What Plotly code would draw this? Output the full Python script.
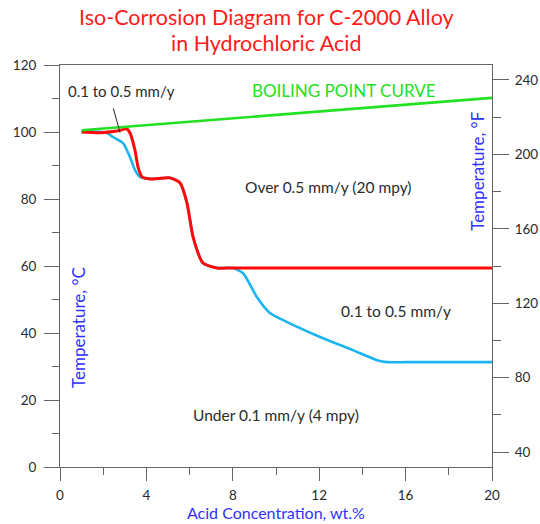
import plotly.graph_objects as go

# ---- data ----
boil_x = [1.0, 20.0]
boil_t = [100.5, 110.2]

red_x = [1.0, 1.85, 2.64, 3.1, 3.24, 3.47, 3.61, 3.8, 4.17, 5.1, 5.56, 5.88, 6.16, 6.62, 7.27, 8.0, 20.0]
red_t = [100.0, 99.8, 100.3, 100.9, 99.7, 94.6, 89.6, 86.6, 86.0, 86.3, 84.8, 78.8, 68.7, 60.9, 59.4, 59.4, 59.4]

blue_x = [1.0, 1.39, 2.18, 2.45, 2.92, 3.24, 3.47, 3.7, 4.17, 5.1, 5.56, 5.88, 6.16, 6.62, 7.27, 8.0,
          8.47, 9.12, 9.72, 10.5, 12.04, 13.56, 14.68, 15.14, 16.06, 20.0]
blue_t = [100.0, 100.2, 99.7, 98.5, 96.7, 92.5, 88.7, 86.6, 86.0, 86.3, 84.8, 78.8, 68.7, 60.9, 59.4, 59.4,
          57.9, 50.7, 46.0, 43.3, 38.8, 34.9, 31.9, 31.3, 31.3, 31.3]

x_ticks = [0, 4, 8, 12, 16, 20]
c_ticks = [0, 20, 40, 60, 80, 100, 120]
f_ticks = [40, 80, 120, 160, 200, 240]

FONT = "Lato"
GREY = "#666666"
TXT = "#2b2b2b"
BLUE_T = "#3030ff"

fig = go.Figure()
fig.add_trace(go.Scatter(x=blue_x, y=blue_t, mode="lines", line=dict(color="#1ab4f0", width=2.6, shape="spline", smoothing=0.6),
                         hoverinfo="skip", showlegend=False))
fig.add_trace(go.Scatter(x=red_x, y=red_t, mode="lines", line=dict(color="#ff0a0a", width=3, shape="spline", smoothing=0.6),
                         hoverinfo="skip", showlegend=False))
fig.add_trace(go.Scatter(x=boil_x, y=boil_t, mode="lines", line=dict(color="#22e022", width=2.6),
                         hoverinfo="skip", showlegend=False))
# dummy trace to activate the Fahrenheit axis
fig.add_trace(go.Scatter(x=[None], y=[None], yaxis="y2", hoverinfo="skip", showlegend=False))

tick_font = dict(family=FONT, size=13.5, color=TXT)

fig.update_layout(
    width=540, height=524,
    margin=dict(l=60, r=48, t=65, b=57, autoexpand=False),
    paper_bgcolor="white", plot_bgcolor="white",
    font=dict(family=FONT),
    xaxis=dict(range=[0, 20], tickvals=x_ticks, ticktext=[str(v) for v in x_ticks], automargin=False,
               showgrid=False, zeroline=False, showline=True, linecolor=GREY, linewidth=1, mirror=True,
               ticks="outside", ticklen=13, tickwidth=1, tickcolor=GREY, tickfont=tick_font, ticklabelstandoff=3,
               minor=dict(dtick=2, tick0=0, ticks="outside", ticklen=7, tickcolor=GREY, showgrid=False)),
    yaxis=dict(range=[0, 120], tickvals=c_ticks, ticktext=[str(v) for v in c_ticks], automargin=False,
               showgrid=False, zeroline=False, showline=True, linecolor=GREY, linewidth=1,
               ticks="outside", ticklen=15, tickwidth=1, tickcolor=GREY, tickfont=tick_font, ticklabelstandoff=5,
               minor=dict(dtick=10, tick0=0, ticks="outside", ticklen=7, tickcolor=GREY, showgrid=False)),
    yaxis2=dict(range=[32, 248], overlaying="y", side="right", tickvals=f_ticks, ticktext=[str(v) for v in f_ticks],
                automargin=False,
                showgrid=False, zeroline=False, showline=True, linecolor=GREY, linewidth=1,
                ticks="outside", ticklen=16, tickwidth=1, tickcolor=GREY, tickfont=tick_font, ticklabelstandoff=3,
                minor=dict(dtick=20, tick0=0, ticks="outside", ticklen=8, tickcolor=GREY, showgrid=False)),
)

title_font = dict(family=FONT, size=21.5, color="#ff1a1a")
fig.add_annotation(x=0.479, y=1, xref="paper", yref="paper", yanchor="middle", yshift=48,
                   text="Iso-Corrosion Diagram for C-2000 Alloy", showarrow=False, font=title_font)
fig.add_annotation(x=0.479, y=1, xref="paper", yref="paper", yanchor="middle", yshift=22,
                   text="in Hydrochloric Acid", showarrow=False, font=title_font)

# x-axis title
fig.add_annotation(x=0.5, y=0, xref="paper", yref="paper", yanchor="bottom", yshift=-57,
                   text="Acid Concentration, wt.%", showarrow=False,
                   font=dict(family=FONT, size=16, color=BLUE_T))

lab_font = dict(family=FONT, size=15.5, color=TXT)
fig.add_annotation(x=2.78, y=99.8, ax=2.45, ay=107.5, axref="x", ayref="y", xref="x", yref="y",
                   showarrow=True, arrowhead=0, arrowwidth=1, arrowcolor="#222222", text="")
fig.add_annotation(x=2.87, y=112.2, text="0.1 to 0.5 mm/y", showarrow=False,
                   font=dict(family=FONT, size=15, color=TXT))
fig.add_annotation(x=13.15, y=112.5, text="BOILING POINT CURVE", showarrow=False,
                   font=dict(family=FONT, size=17, color="#22e022"))
fig.add_annotation(x=12.4, y=83.5, text="Over 0.5 mm/y (20 mpy)", showarrow=False, font=lab_font)
fig.add_annotation(x=15.55, y=46.6, text="0.1 to 0.5 mm/y", showarrow=False, font=lab_font)
fig.add_annotation(x=10.0, y=15.5, text="Under 0.1 mm/y (4 mpy)", showarrow=False, font=lab_font)
fig.add_annotation(x=0.88, y=41.5, text="Temperature, °C", textangle=-90, showarrow=False,
                   font=dict(family=FONT, size=17, color=BLUE_T))
fig.add_annotation(x=19.35, y=88.4, text="Temperature, °F", textangle=-90, showarrow=False,
                   font=dict(family=FONT, size=17, color=BLUE_T))

fig.write_html("out.html", config={"displayModeBar": False},
               post_script="document.body.style.margin='0';document.body.style.overflow='hidden';")
